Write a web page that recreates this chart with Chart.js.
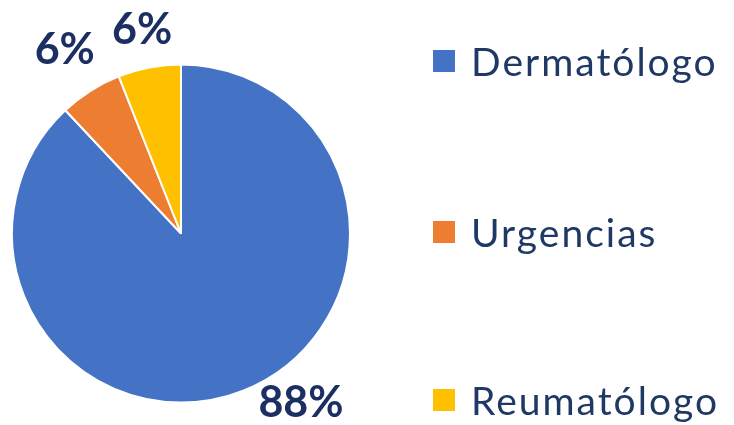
<!DOCTYPE html>
<html>
<head>
<meta charset="utf-8">
<script src="https://cdn.jsdelivr.net/npm/chart.js@4"></script>
<style>
  html, body { margin: 0; padding: 0; background: #fff; }
  #wrap { position: relative; width: 734px; height: 425px; overflow: hidden; }
  #c { position: absolute; left: 0; top: 0; }
  .leg { position: absolute; left: 433px; height: 40px; display: flex; align-items: center;
         font-family: Lato, "Open Sans", sans-serif; font-size: 39px; letter-spacing: 2px; color: #203864; white-space: nowrap; }
  .sw { width: 22px; height: 22px; margin-right: 16px; flex: none; }
</style>
</head>
<body>
<div id="wrap">
  <canvas id="c" width="734" height="425"></canvas>
</div>
<script>
const categories = ["Dermatólogo", "Urgencias", "Reumatólogo"];
const values = [88, 6, 6];
const valueLabels = ["88%", "6%", "6%"];
const colors = ["#4472C4", "#ED7D31", "#FFC000"];
const labelFraction = [0.457, 0.5, 0.5];   // where along each slice its label sits
const labelGap = [39, 48, 38];             // label distance beyond the pie edge
const legendRowCenters = [61, 232, 400];

const wrap = document.getElementById('wrap');
categories.forEach((name, i) => {
  const d = document.createElement('div');
  d.className = 'leg';
  d.style.top = (legendRowCenters[i] - 20) + 'px';
  d.innerHTML = '<div class="sw" style="background:' + colors[i] + '"></div><span>' + name + '</span>';
  wrap.appendChild(d);
});

const labelPlugin = {
  id: 'outsideLabels',
  afterDatasetsDraw(chart) {
    const ctx = chart.ctx;
    const meta = chart.getDatasetMeta(0);
    ctx.save();
    ctx.font = 'bold 43px Lato, "Open Sans", sans-serif';
    ctx.fillStyle = '#1B2F63';
    ctx.textAlign = 'center';
    ctx.textBaseline = 'middle';
    meta.data.forEach((arc, i) => {
      const p = arc.getProps(['x', 'y', 'startAngle', 'endAngle', 'outerRadius'], true);
      const a = p.startAngle + (p.endAngle - p.startAngle) * labelFraction[i];
      const r = p.outerRadius + labelGap[i];
      ctx.fillText(valueLabels[i], p.x + Math.cos(a) * r, p.y + Math.sin(a) * r);
    });
    ctx.restore();
  }
};

new Chart(document.getElementById('c'), {
  type: 'pie',
  data: {
    labels: categories,
    datasets: [{
      data: values,
      backgroundColor: colors,
      borderColor: '#ffffff',
      borderWidth: 2
    }]
  },
  options: {
    responsive: false,
    animation: false,
    layout: { padding: { left: 11, top: 63, right: 383, bottom: 21 } },
    plugins: { legend: { display: false }, tooltip: { enabled: false } }
  },
  plugins: [labelPlugin]
});
</script>
</body>
</html>
